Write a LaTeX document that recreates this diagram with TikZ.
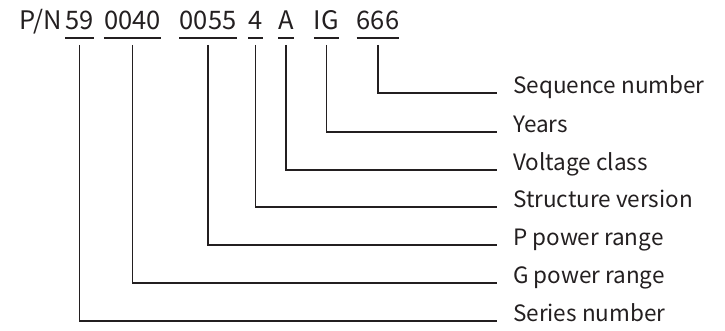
\documentclass[tikz,border=0pt]{standalone}
\usepackage{fontspec}
\newfontfamily\pnfont{Noto Sans CJK SC}
\usepackage{tikz}
\definecolor{ink}{RGB}{35,31,32}

\tikzset{
  code/.style={inner sep=0pt, anchor=base, font=\pnfont\fontsize{25.5}{30}\selectfont, text=ink},
  lbl/.style={inner sep=0pt, anchor=mid west, yshift=2pt, font=\pnfont\fontsize{22.5}{27}\selectfont, text=ink},
  lead/.style={draw=ink, line width=1.8pt, shorten >=16pt}
}

\begin{document}
\begin{tikzpicture}[x=1pt, y=-1pt]
\useasboundingbox (0,0) rectangle (725,331);
% part number
\node[code, anchor=base west] (pn) at (19,30) {P/N};
\node[code] (s59)  at (79.5,30) {59};
\node[code] (s0040) at (132.5,30) {0040};
\node[code] (s0055) at (208,30) {0055};
\node[code] (s4)   at (255.5,30) {4};
\node[code] (sA)   at (286,30) {A};
\node[code] (sIG)  at (326.5,30) {IG};
\node[code] (s666) at (378,30) {666};
% underlines
\foreach \s in {s59,s0040,s0055,s4,sA,sIG,s666}
  \draw[ink, line width=1.8pt] ([yshift=-8pt]\s.base west) -- ([yshift=-8pt]\s.base east);
% meanings
\node[lbl] (seq) at (513,93)  {Sequence number};
\node[lbl] (yr)  at (513,132) {Years};
\node[lbl] (vc)  at (513,170) {Voltage class};
\node[lbl] (sv)  at (513,207) {Structure version};
\node[lbl] (pp)  at (513,245) {P power range};
\node[lbl] (gp)  at (513,283) {G power range};
\node[lbl] (ser) at (513,321) {Series number};
% leaders
\draw[lead] ([yshift=-15pt]s666.base)  |- ([yshift=-2pt]seq.mid west);
\draw[lead] ([yshift=-15pt]sIG.base)   |- ([yshift=-2pt]yr.mid west);
\draw[lead] ([yshift=-15pt]sA.base)    |- ([yshift=-2pt]vc.mid west);
\draw[lead] ([yshift=-15pt]s4.base)    |- ([yshift=-2pt]sv.mid west);
\draw[lead] ([yshift=-15pt]s0055.base) |- ([yshift=-2pt]pp.mid west);
\draw[lead] ([yshift=-15pt]s0040.base) |- ([yshift=-2pt]gp.mid west);
\draw[lead] ([yshift=-15pt]s59.base)   |- ([yshift=-2pt]ser.mid west);
\end{tikzpicture}
\end{document}
